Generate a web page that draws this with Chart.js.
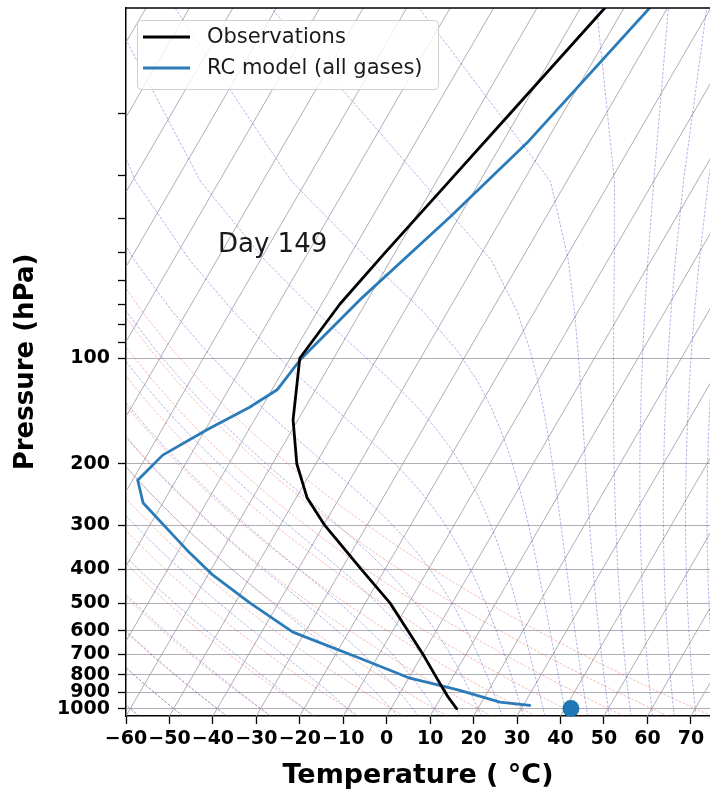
<!DOCTYPE html>
<html><head><meta charset="utf-8">
<script src="https://cdn.jsdelivr.net/npm/chart.js@4.4.1/dist/chart.umd.min.js"></script>
<style>
html,body{margin:0;padding:0;background:#fff;overflow:hidden;}
canvas{display:block;}
</style></head>
<body>
<canvas id="c" width="710" height="796"></canvas>
<script>
// ---------------- data ----------------
const obsPressure = [1000, 925, 850, 700, 600, 500, 400, 300, 250, 200, 150, 100, 70, 50, 30, 20, 10];
const obsTemp     = [15.1, 11.5, 8.0, 0.1, -6.5, -14.3, -25.5, -39.7, -47.5, -54.4, -61.1, -67.8, -65.8, -62.3, -56.6, -52.1, -44.4];

const rcPressure  = [979, 959, 887, 858, 819, 718, 605, 500, 416, 353, 259, 223, 189, 160, 138, 123, 101, 81, 67, 39.5, 24.3, 10];
const rcTemp      = [31.5, 24.2, 13.4, 8.1, 0.3, -13.9, -32.8, -46.5, -58.8, -68.1, -84.5, -88.8, -86.4, -79.6, -72.8, -68.8, -67.5, -64.3, -61.5, -52.1, -44.3, -34.1];

const surfacePressure = [1000];
const surfaceTemp     = [41.4];

const tempTicks      = [-60, -50, -40, -30, -20, -10, 0, 10, 20, 30, 40, 50, 60, 70];
const pressureLabels = [100, 200, 300, 400, 500, 600, 700, 800, 900, 1000];
const pressureMinor  = [20, 30, 40, 50, 60, 70, 80, 90];
const seriesNames    = ['Observations', 'RC model (all gases)'];
const annotationText = 'Day 149';

// ---------------- skew-T geometry ----------------
const P_BOTTOM = 1050, P_TOP = 10;
const X_MIN = -60, X_MAX = 74.4;
const SKEW = 46.8;               // degC of skew per decade of pressure
function skewX(t, p) { return t + SKEW * Math.log10(P_BOTTOM / p); }

// reference guide-line families (metpy style)
const dryT0   = [-60, -50, -40, -30, -20, -10, 0, 10, 20, 30, 40, 50, 60, 70];
const moistT0 = [-60, -50, -40, -30, -20, -10, 0, 5, 10, 15, 20, 25, 30, 35, 40, 45, 50, 55, 60, 65, 70, 75];
const guideP = []; for (let i = 0; i < 50; i++) guideP.push(P_BOTTOM - i * (P_BOTTOM - P_TOP) / 49);

const Rd = 287.04749, Cp = 1004.6662, Lv = 2.50084e6, EPS = 0.6219569, KAPPA = 0.28571;
function esat(T) { return 6.112 * Math.exp(17.67 * (T - 273.15) / (T - 29.65)); }
function dTdlnp(lp, T) {
  const p = Math.exp(lp), es = esat(T);
  const rs = EPS * es / Math.max(p - es, 1e-3);
  return (Rd * T + Lv * rs) / (Cp + Lv * Lv * rs * EPS / (Rd * T * T));
}
function integrate(T, lpA, lpB) {
  const n = Math.max(1, Math.ceil(Math.abs(lpB - lpA) / 0.004));
  const h = (lpB - lpA) / n; let lp = lpA;
  for (let i = 0; i < n; i++) {
    const k1 = dTdlnp(lp, T), k2 = dTdlnp(lp + h / 2, T + h * k1 / 2);
    const k3 = dTdlnp(lp + h / 2, T + h * k2 / 2), k4 = dTdlnp(lp + h, T + h * k3);
    T += h * (k1 + 2 * k2 + 2 * k3 + k4) / 6; lp += h;
  }
  return T;
}
function moistProfile(t0) {
  return guideP.map(p => integrate(t0 + 273.15, Math.log(1000), Math.log(p)) - 273.15);
}
function dryProfile(t0) {
  return guideP.map(p => (t0 + 273.15) * Math.pow(p / 1000, KAPPA) - 273.15);
}

const FONT = 'DejaVu Sans';

const skewPlugin = {
  id: 'skewT',
  beforeDatasetsDraw(chart) {
    const {ctx, chartArea: a, scales: {x, y}} = chart;
    ctx.save();
    ctx.beginPath(); ctx.rect(a.left, a.top, a.right - a.left, a.bottom - a.top); ctx.clip();
    const line = (temps, col, w, dash) => {
      ctx.beginPath();
      temps.forEach((t, i) => {
        const px = x.getPixelForValue(skewX(t, guideP[i])), py = y.getPixelForValue(guideP[i]);
        i ? ctx.lineTo(px, py) : ctx.moveTo(px, py);
      });
      ctx.strokeStyle = col; ctx.lineWidth = w; ctx.setLineDash(dash); ctx.stroke();
    };
    // isotherms (skewed x grid)
    ctx.setLineDash([]);
    for (let t = -170; t <= 70; t += 10) {
      ctx.beginPath();
      ctx.moveTo(x.getPixelForValue(skewX(t, P_BOTTOM)), y.getPixelForValue(P_BOTTOM));
      ctx.lineTo(x.getPixelForValue(skewX(t, P_TOP)), y.getPixelForValue(P_TOP));
      ctx.strokeStyle = 'rgba(160,160,168,0.85)'; ctx.lineWidth = 1; ctx.stroke();
    }
    dryT0.forEach(t0 => line(dryProfile(t0), 'rgba(235,60,60,0.45)', 0.8, [2.6, 1.6]));
    moistT0.forEach(t0 => line(moistProfile(t0), 'rgba(40,40,200,0.45)', 0.8, [2.6, 1.6]));
    ctx.restore();
  },
  afterDatasetsDraw(chart) {
    const {ctx, chartArea: a} = chart;
    ctx.save();
    // top spine
    ctx.beginPath(); ctx.moveTo(a.left, a.top); ctx.lineTo(a.right, a.top);
    ctx.strokeStyle = '#000'; ctx.lineWidth = 1.5; ctx.stroke();
    // annotation
    ctx.fillStyle = '#1a1a1a'; ctx.font = `26px "${FONT}"`;
    ctx.textAlign = 'left'; ctx.textBaseline = 'alphabetic';
    ctx.fillText(annotationText, 218, 252);
    // legend
    const bx = 137.5, by = 20.5, bw = 301, bh = 69, r = 4;
    ctx.beginPath();
    ctx.moveTo(bx + r, by); ctx.lineTo(bx + bw - r, by); ctx.quadraticCurveTo(bx + bw, by, bx + bw, by + r);
    ctx.lineTo(bx + bw, by + bh - r); ctx.quadraticCurveTo(bx + bw, by + bh, bx + bw - r, by + bh);
    ctx.lineTo(bx + r, by + bh); ctx.quadraticCurveTo(bx, by + bh, bx, by + bh - r);
    ctx.lineTo(bx, by + r); ctx.quadraticCurveTo(bx, by, bx + r, by); ctx.closePath();
    ctx.fillStyle = 'rgba(255,255,255,0.8)'; ctx.fill();
    ctx.strokeStyle = '#d0d0d0'; ctx.lineWidth = 1; ctx.stroke();
    const ds = chart.data.datasets;
    [37, 68].forEach((yy, i) => {
      ctx.beginPath(); ctx.moveTo(143, yy); ctx.lineTo(190, yy);
      ctx.strokeStyle = ds[i].borderColor; ctx.lineWidth = 2.8; ctx.stroke();
      ctx.fillStyle = '#1a1a1a'; ctx.font = `21px "${FONT}"`;
      ctx.textAlign = 'left'; ctx.textBaseline = 'middle';
      ctx.fillText(ds[i].label, 207, yy + 1);
    });
    ctx.restore();
  }
};

const tickFont = {family: FONT, size: 19, weight: 'bold'};

new Chart(document.getElementById('c'), {
  type: 'scatter',
  data: {
    datasets: [
      {label: seriesNames[0], data: obsPressure.map((p, i) => ({x: skewX(obsTemp[i], p), y: p})),
       showLine: true, borderColor: '#000000', backgroundColor: '#000000', borderWidth: 2.8,
       pointRadius: 0, tension: 0, borderCapStyle: 'round', borderJoinStyle: 'round'},
      {label: seriesNames[1], data: rcPressure.map((p, i) => ({x: skewX(rcTemp[i], p), y: p})),
       showLine: true, borderColor: '#2b7bb9', backgroundColor: '#2b7bb9', borderWidth: 2.8,
       pointRadius: 0, tension: 0, borderCapStyle: 'round', borderJoinStyle: 'round'},
      {label: 'Surface', data: surfacePressure.map((p, i) => ({x: skewX(surfaceTemp[i], p), y: p})),
       showLine: false, pointRadius: 8.5, pointHoverRadius: 8.5, pointBackgroundColor: '#1f77b4', pointBorderWidth: 0, clip: false}
    ]
  },
  options: {
    responsive: false, animation: false, devicePixelRatio: 1,
    layout: {autoPadding: false, padding: {top: 8, left: 0, right: 0, bottom: 0}},
    plugins: {legend: {display: false}, tooltip: {enabled: false}},
    scales: {
      x: {
        type: 'linear', min: X_MIN, max: X_MAX,
        afterBuildTicks: s => { s.ticks = tempTicks.map(v => ({value: v})); },
        afterFit: s => { s.height = 80; s.paddingLeft = 0; s.paddingRight = 0; },
        grid: {drawOnChartArea: false, drawTicks: true, tickLength: 8, tickColor: '#000', tickWidth: 1.3},
        border: {display: true, color: '#000', width: 1.5},
        ticks: {autoSkip: false, maxRotation: 0, padding: 4, color: '#000', font: tickFont,
                callback: v => (v < 0 ? '\u2212' + Math.abs(v) : String(v))},
        title: {display: true, text: 'Temperature ( °C)', color: '#000',
                font: {family: FONT, size: 27, weight: 'bold'}, padding: {top: 0, bottom: 4}}
      },
      y: {
        type: 'logarithmic', reverse: true, min: P_TOP, max: P_BOTTOM,
        afterBuildTicks: s => { s.ticks = pressureMinor.concat(pressureLabels).map(v => ({value: v})); },
        afterFit: s => { s.width = 126; s.paddingTop = 0; s.paddingBottom = 0; },
        grid: {drawOnChartArea: true, drawTicks: true, tickLength: 8, tickColor: '#000', tickWidth: 1.3,
               lineWidth: 1,
               color: c => (c.tick && pressureLabels.includes(c.tick.value)) ? 'rgba(160,160,168,0.85)' : 'rgba(0,0,0,0)'},
        border: {display: true, color: '#000', width: 1.5},
        ticks: {autoSkip: false, padding: 8, color: '#000', font: tickFont,
                callback: v => pressureLabels.includes(v) ? String(v) : ''},
        title: {display: true, text: 'Pressure (hPa)', color: '#000',
                font: {family: FONT, size: 26, weight: 'bold'}, padding: {top: 11, bottom: 0}}
      }
    }
  },
  plugins: [skewPlugin]
});
</script>
</body></html>
